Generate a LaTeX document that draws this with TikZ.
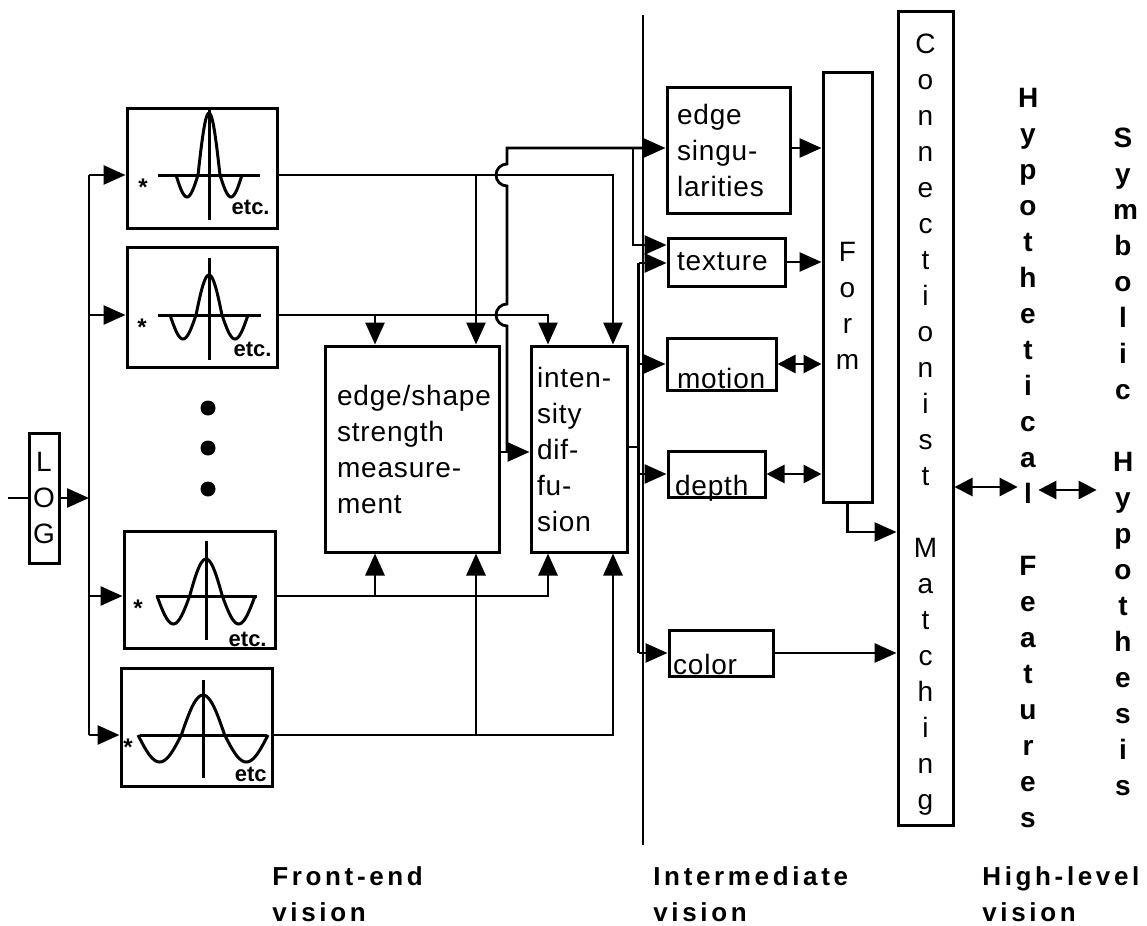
\documentclass[tikz,border=0pt]{standalone}
\usepackage{fontspec}
\setmainfont{Liberation Sans}
\newfontfamily\boxfont[LetterSpace=3]{Liberation Sans}
\newfontfamily\lblfont[LetterSpace=14]{Liberation Sans}
\usetikzlibrary{arrows.meta, calc}
\hyphenpenalty=10000
% kernel curve: centre x, axis y, half width, peak, trough
\newcommand{\filtwave}[5]{%
  \draw[wave] plot[domain=-270:270, samples=73, smooth, variable=\t] ({#1+#3*(\t/270)}, {#2-#4*max(cos(\t),0)-#5*min(cos(\t),0)});}

\begin{document}
\begin{tikzpicture}[x=0.5pt, y=-0.5pt,
    wire/.style={line width=1.4pt},
    arr/.style={wire, -{Triangle[length=11pt, width=9.5pt]}},
    dbl/.style={wire, {Triangle[length=9pt, width=9pt]}-{Triangle[length=9pt, width=9pt]}},
    box/.style={draw, line width=1.5pt, font=\boxfont\fontsize{14}{18}\selectfont, align=left, inner ysep=0pt},
    filt/.style={draw, line width=1.5pt, inner sep=0pt},
    wave/.style={line width=1.5pt},
    vtxt/.style={font=\boxfont\fontsize{14}{18}\selectfont, align=center, inner sep=0pt},
    btxt/.style={font=\bfseries\fontsize{14}{18}\selectfont, align=center, inner xsep=0pt, text width=10pt},
    lbl/.style={font=\lblfont\bfseries\fontsize{13}{18}\selectfont, align=left, inner sep=0pt, anchor=west},
    etcl/.style={font=\bfseries\fontsize{11}{11}\selectfont, inner sep=0pt, anchor=south east},
    starl/.style={font=\bfseries\fontsize{12}{12}\selectfont, inner sep=0pt}]
    \useasboundingbox (0,0) rectangle (1147,926);
    % Rows and columns of the wiring
    \coordinate (inp) at (8,498);
    \foreach \n/\y in {row1/175, row2/315, row3/596, row4/735, rowm/452, rowe/148, rowt/245, rowi/447, rowb/263, rowf/532, rowh/487, rowk/490}
        \coordinate (\n) at (0,\y);
    \foreach \n/\x in {colbus/89, cola/375, colb/476, colh/507, colc/548, cold/613, cole/633, colf/638.5}
        \coordinate (\n) at (\x,0);
    % Stage divider
    \draw[line width=0.6pt] (643,15) -- (643,845);
    % LOG and filter bank
    \node[box, minimum width=15pt, minimum height=65pt, inner xsep=1pt, align=center] (log) at (44,498) {L\\O\\G};
    \foreach \i/\bx/\by/\bw/\bh in {1/202/168/75/60, 2/202/307/75/60, 3/199.5/589.5/75.5/58.5, 4/196.5/727/75.5/59}
        \node[filt, minimum width=\bw pt, minimum height=\bh pt] (filt\i) at (\bx,\by) {};
    \foreach \i/\cx/\ay/\hw/\up/\dn/\ah/\vt/\vb/\sx/\ex/\ey/\et in {1/209/175/33/62/22/51/110/220/143/270/215/etc., 2/209/315/39/40/24/51.5/258/360/142/272/357/etc., 3/206/596/49/37/28/50.5/541/640/138/267/647/etc., 4/203/735/65/40/27/63.5/680/778/128/267/782/etc}
    {
        \draw[wave] (\cx-\ah,\ay) -- (\cx+\ah,\ay);
        \draw[wave] (\cx,\vt) -- (\cx,\vb);
        \filtwave{\cx}{\ay}{\hw}{\up}{\dn}
        \node[starl] (star\i) at (\sx,\ay+12) {*};
        \node[etcl] (etc\i) at (\ex,\ey) {\et};
    }
    \foreach \dy in {408,448,489} \fill (208,\dy) circle[radius=3.75pt];
    % Front-end boxes
    \node[box, text width=75pt, inner xsep=6pt, minimum height=103pt] (esm) at (412,449) {edge/shape\\strength\\measure-\\ment};
    \node[box, text width=42pt, inner xsep=3pt, minimum height=103pt] (intd) at (579,449) {inten-\\sity\\dif-\\fu-\\sion};
    % Intermediate boxes
    \node[box, text width=51.5pt, inner xsep=5pt, minimum height=63pt] (edgs) at (728.5,150) {edge\\singu-\\larities};
    \node[box, text width=49.5pt, inner xsep=4.5pt, minimum height=24pt] (textr) at (726.5,262) {texture};
    \node[box, text width=44.5pt, inner xsep=5pt, minimum height=26pt, text height=24pt, text depth=0pt, inner ysep=1pt] (motion) at (721.5,364) {motion};
    \node[box, text width=41.5pt, inner xsep=3.5pt, minimum height=23pt, text height=21pt, text depth=0pt, inner ysep=1pt] (depth) at (716.5,474) {depth};
    \node[box, text width=48pt, inner xsep=2pt, minimum height=23pt, text height=21pt, text depth=0pt, inner ysep=1pt] (color) at (721,653) {color};
    \node[box, minimum width=24.5pt, minimum height=215pt, inner xsep=0pt] (form) at (847.5,287) {};
    \node[vtxt] (formtxt) at (847.5,306) {F\\o\\r\\m};
    % High-level column
    \node[box, minimum width=27.5pt, minimum height=407pt, inner xsep=0pt] (cm) at (925.5,418) {};
    \node[vtxt] (cmtxt) at (925.5,425) {C\\o\\n\\n\\e\\c\\t\\i\\o\\n\\i\\s\\t\\[18pt]M\\a\\t\\c\\h\\i\\n\\g};
    \node[btxt] (hf) at (1028,458.5) {H\\y\\p\\o\\t\\h\\e\\t\\i\\c\\a\\l\\[18pt]F\\e\\a\\t\\u\\r\\e\\s};
    \node[btxt] (sh) at (1123,461.5) {S\\y\\m\\b\\o\\l\\i\\c\\[18pt]H\\y\\p\\o\\t\\h\\e\\s\\i\\s};
    % Stage labels
    \node[lbl] (fev) at (272,894) {Front-end\\vision};
    \node[lbl] (imv) at (653,894) {Intermediate\\vision};
    \node[lbl] (hlv) at (982,894) {High-level\\vision};
    % Input and bus
    \draw[wire] (inp) -- (log.west);
    \draw[arr] (log.east) -- (log.east -| colbus);
    \draw[wire] (colbus |- row1) -- (colbus |- row4);
    \foreach \i in {1,...,4} \draw[arr] (colbus |- row\i) -- (filt\i.west |- row\i);
    % Filter outputs
    \draw[arr] (filt1.east |- row1) -- (cold |- row1) -- (cold |- intd.north);
    \draw[arr] (colb |- row1) -- (colb |- esm.north);
    \draw[arr] (filt2.east |- row2) -- (colc |- row2) -- (colc |- intd.north);
    \draw[arr] (cola |- row2) -- (cola |- esm.north);
    \draw[arr] (filt3.east |- row3) -- (colc |- row3) -- (colc |- intd.south);
    \draw[arr] (cola |- row3) -- (cola |- esm.south);
    \draw[arr] (filt4.east |- row4) -- (cold |- row4) -- (cold |- intd.south);
    \draw[arr] (colb |- row4) -- (colb |- esm.south);
    % Edge/shape output with hops
    \draw[arr] (esm.east |- rowm) -- (intd.west |- rowm);
    \draw[arr] (colh |- rowm) -- ($(colh |- row2)+(0,11)$) arc[start angle=90, end angle=270, radius=11]
        -- ($(colh |- row1)+(0,11)$) arc[start angle=90, end angle=270, radius=11]
        -- (colh |- rowe) -- (edgs.west |- rowe);
    \draw[arr] (cole |- rowe) -- (cole |- rowt) -- (textr.west |- rowt);
    % Diffusion bus
    \draw[wire] (intd.east |- rowi) -- (colf |- rowi);
    \draw[wire] (colf |- rowb) -- (colf |- color.west);
    \draw[arr] (colf |- rowb) -- (textr.west |- rowb);
    \draw[arr] (colf |- motion.west) -- (motion.west);
    \draw[arr] (colf |- depth.west) -- (depth.west);
    \draw[arr] (colf |- color.west) -- (color.west);
    % Into Form and matching
    \draw[arr] (edgs.east |- rowe) -- (form.west |- rowe);
    \draw[arr] (textr.east) -- (textr.east -| form.west);
    \draw[dbl] (motion.east) -- (motion.east -| form.west);
    \draw[dbl] (depth.east) -- (depth.east -| form.west);
    \draw[arr] (form.south) |- (cm.west |- rowf);
    \draw[arr] (color.east) -- (color.east -| cm.west);
    \draw[dbl] (cm.east |- rowh) -- (hf.west |- rowh);
    \draw[dbl, shorten >=8pt] (hf.east |- rowk) -- (sh.west |- rowk);
\end{tikzpicture}
\end{document}
